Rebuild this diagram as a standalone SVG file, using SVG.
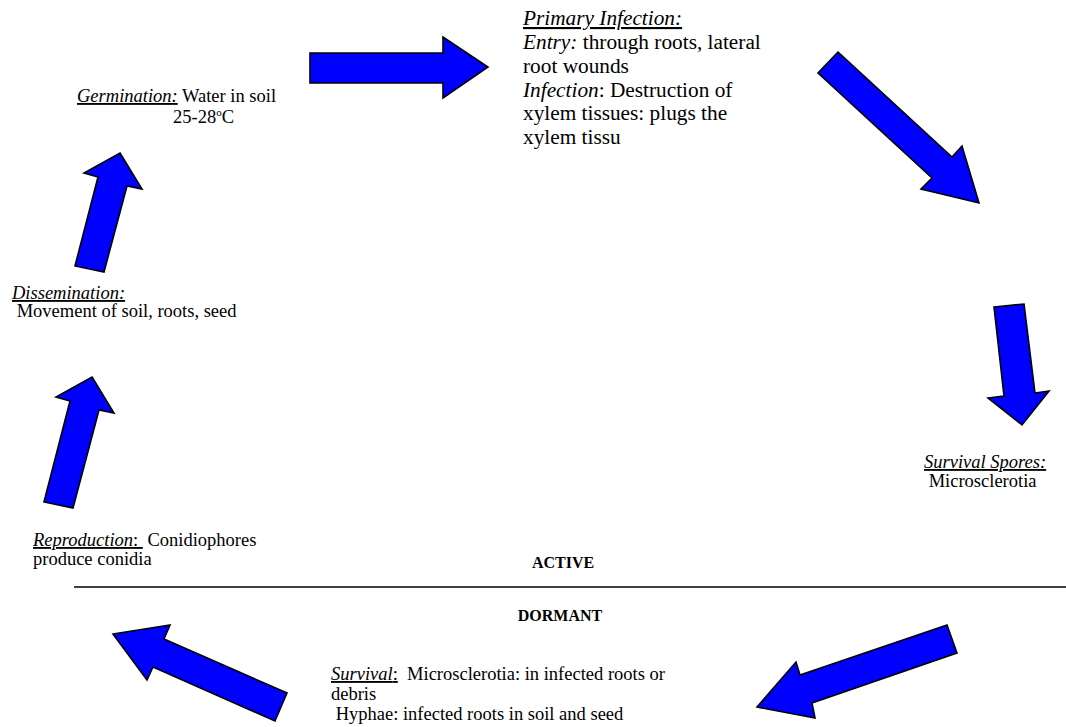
<svg xmlns="http://www.w3.org/2000/svg" width="1066" height="727" viewBox="0 0 1066 727">
<style>
text{font-family:"Liberation Serif","Times New Roman",serif;fill:#000;white-space:pre}
.s{font-size:18.5px}
.b{font-size:21.3px}
.h{font-size:16px;font-weight:bold;text-anchor:middle}
.i{font-style:italic}
.u{text-decoration:underline}
.arrow{fill:#0000ff;stroke:#000;stroke-width:1.6;stroke-linejoin:miter}
</style>
<rect width="1066" height="727" fill="#fff"/>
<g id="connectors">
<polygon class="arrow" points="310,53 443,53 443,37 488,67 443,98 443,83 310,83"/>
<polygon class="arrow" points="838,52 952,157 962,146 979,203 921,189 932,178 818,73"/>
<polygon class="arrow" points="994,307 1024,304 1035,393 1049,391 1022,425 988,398 1004,396"/>
<polygon class="arrow" points="120,153 142,189 127,186 104,272 75,266 98,177 84,173"/>
<polygon class="arrow" points="92,377 114,413 99,410 73,508 44,502 70,401 56,397"/>
<polygon class="arrow" points="113,634 170,625 164,639 287,693 275,721 153,667 147,680"/>
<polygon class="arrow" points="947,625 957,653 812,703 815,718 757,707 796,662 800,675"/>
<line x1="74" y1="587" x2="1066" y2="587" stroke="#000" stroke-width="1.6"/>
</g>
<g id="primary-infection">
<text class="b" x="523" y="25"><tspan class="i u">Primary Infection:</tspan></text>
<text class="b" x="523" y="49"><tspan class="i">Entry:</tspan> through roots, lateral</text>
<text class="b" x="523" y="73">root wounds</text>
<text class="b" x="523" y="97"><tspan class="i">Infection</tspan>: Destruction of</text>
<text class="b" x="523" y="120">xylem tissues: plugs the</text>
<text class="b" x="523" y="144">xylem tissu</text>
</g>
<g id="germination">
<text class="s" x="77" y="102"><tspan class="i u">Germination:</tspan> Water in soil</text>
<text class="s" x="173" y="123">25-28<tspan font-size="11" dy="-7">o</tspan><tspan dy="7">C</tspan></text>
</g>
<g id="dissemination">
<text class="s" x="12" y="299"><tspan class="i u">Dissemination:</tspan></text>
<text class="s" x="12" y="317"> Movement of soil, roots, seed</text>
</g>
<g id="reproduction">
<text class="s" x="33" y="546"><tspan class="u"><tspan class="i">Reproduction</tspan>: </tspan> Conidiophores</text>
<text class="s" x="33" y="565">produce conidia</text>
</g>
<g id="survival-spores">
<text class="s" x="924" y="468"><tspan class="i u">Survival Spores:</tspan></text>
<text class="s" x="924" y="487"> Microsclerotia</text>
</g>
<g id="active">
<text class="h" x="563" y="568">ACTIVE</text>
</g>
<g id="dormant">
<text class="h" x="560" y="621">DORMANT</text>
</g>
<g id="survival">
<text class="s" x="331" y="680"><tspan class="u"><tspan class="i">Survival</tspan>:</tspan>  Microsclerotia: in infected roots or</text>
<text class="s" x="331" y="700">debris</text>
<text class="s" x="331" y="720"> Hyphae: infected roots in soil and seed</text>
</g>
</svg>
